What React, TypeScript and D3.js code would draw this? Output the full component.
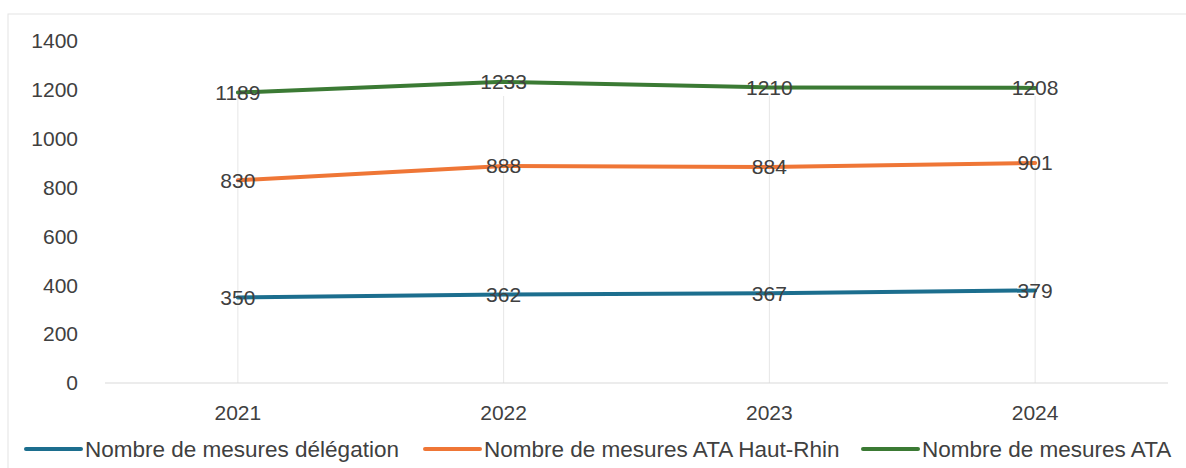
import React from "react"
import * as d3 from "d3"

const years = ["2021", "2022", "2023", "2024"]
const delegation = [350, 362, 367, 379]
const hautRhin = [830, 888, 884, 901]
const ata = [1189, 1233, 1210, 1208]
const yTicks = [0, 200, 400, 600, 800, 1000, 1200, 1400]

const seriesList = [
  { name: "Nombre de mesures délégation", values: delegation, color: "#1c6e8e" },
  { name: "Nombre de mesures ATA Haut-Rhin", values: hautRhin, color: "#ef7636" },
  { name: "Nombre de mesures ATA", values: ata, color: "#3b7a34" },
]

// legend sample start positions
const legendX = [26, 425, 863]

export default function App() {
  const width = 1186
  const height = 468
  const margin = { top: 41, right: 18, bottom: 85, left: 105 }

  const x = d3
    .scaleBand()
    .domain(years)
    .range([margin.left, width - margin.right])
  const y = d3
    .scaleLinear()
    .domain([0, 1400])
    .range([height - margin.bottom, margin.top])

  const cx = (yr: string) => (x(yr) as number) + x.bandwidth() / 2

  const line = d3
    .line<number>()
    .x((_, i) => cx(years[i]))
    .y((d) => y(d))

  const font = "'Liberation Sans', Arial, sans-serif"

  return (
    <svg
      width={width}
      height={height}
      style={{ position: "absolute", left: 0, top: 0, background: "#ffffff" }}
      fontFamily={font}
    >
      <rect x={8} y={14} width={1190} height={470} fill="none" stroke="#e4e4e4" strokeWidth={1} />

      {/* vertical gridlines at categories */}
      {years.map((yr) => (
        <line key={yr} x1={cx(yr)} x2={cx(yr)} y1={y(1400) + 55} y2={y(0)} stroke="#e6e6e6" strokeWidth={1} />
      ))}
      <line x1={margin.left} x2={width - margin.right} y1={y(0)} y2={y(0)} stroke="#d9d9d9" strokeWidth={1} />

      {yTicks.map((t) => (
        <text key={t} x={78} y={y(t)} dy="0.35em" textAnchor="end" fontSize={21} fill="#404040">
          {t}
        </text>
      ))}

      {years.map((yr) => (
        <text key={yr} x={cx(yr)} y={y(0) + 30} dy="0.35em" textAnchor="middle" fontSize={21} fill="#404040">
          {yr}
        </text>
      ))}

      {seriesList.map((s) => (
        <path
          key={s.name}
          d={line(s.values) || ""}
          fill="none"
          stroke={s.color}
          strokeWidth={4}
          strokeLinecap="round"
          strokeLinejoin="round"
        />
      ))}

      {seriesList.map((s) =>
        s.values.map((v, i) => (
          <text
            key={s.name + i}
            x={cx(years[i])}
            y={y(v)}
            dy="0.35em"
            textAnchor="middle"
            fontSize={21}
            fill="#404040"
          >
            {v}
          </text>
        ))
      )}

      {seriesList.map((s, i) => (
        <g key={s.name} transform={`translate(${legendX[i]},449)`}>
          <line x1={0} x2={55} y1={0} y2={0} stroke={s.color} strokeWidth={4} strokeLinecap="round" />
          <text x={59} y={0} dy="0.35em" fontSize={22.5} fill="#404040">
            {s.name}
          </text>
        </g>
      ))}
    </svg>
  )
}
